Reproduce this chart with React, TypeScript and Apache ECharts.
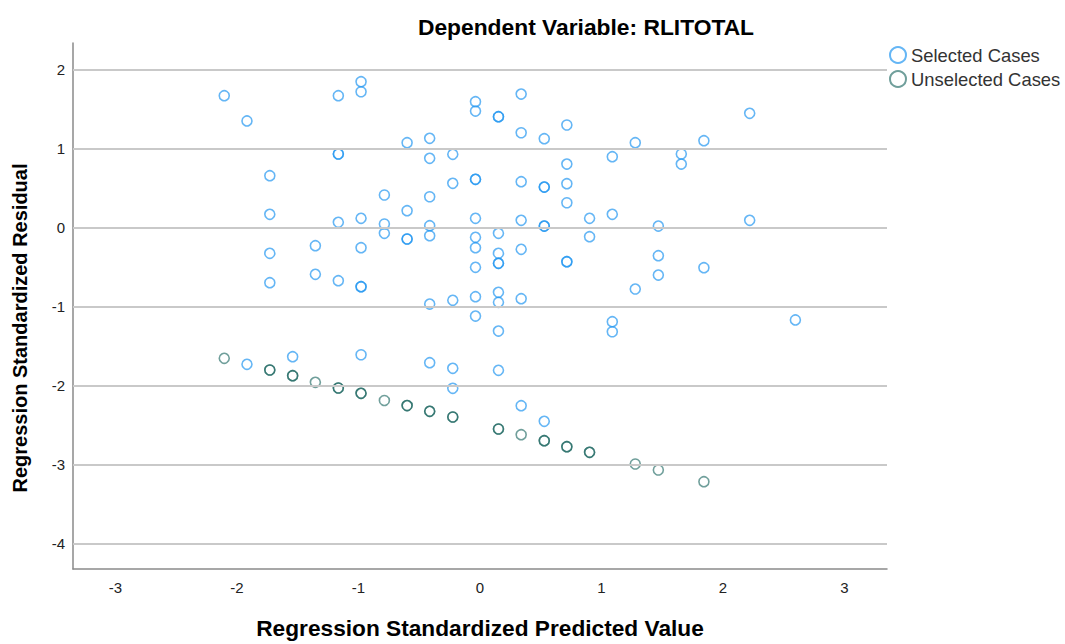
import React, { useEffect, useRef } from "react";
import * as echarts from "echarts";

const chartTitle = "Dependent Variable: RLITOTAL";
const xAxisTitle = "Regression Standardized Predicted Value";
const yAxisTitle = "Regression Standardized Residual";
const seriesNames = ["Selected Cases", "Unselected Cases"];
const gridValues = [-4, -3, -2, -1, 0, 1, 2];

const selectedCases: number[][] = [
  [-2.105, 1.666],
  [-1.918, 1.346], [-1.918, -1.734],
  [-1.73, 0.653], [-1.73, 0.165], [-1.73, -0.329], [-1.73, -0.701],
  [-1.542, -1.638],
  [-1.355, -0.233], [-1.355, -0.595],
  [-1.166, 1.666], [-1.166, 0.928], [-1.166, 0.928], [-1.166, 0.063], [-1.166, -0.676],
  [-0.979, 1.843], [-0.979, 1.716], [-0.979, 0.114], [-0.979, -0.258], [-0.979, -0.752], [-0.979, -0.752], [-0.979, -1.613],
  [-0.787, 0.409], [-0.787, 0.042], [-0.787, -0.076],
  [-0.6, 1.071], [-0.6, 0.21], [-0.6, -0.148], [-0.6, -0.148],
  [-0.414, 1.127], [-0.414, 0.873], [-0.414, 0.387], [-0.414, 0.02], [-0.414, -0.106], [-0.414, -0.971], [-0.414, -1.714],
  [-0.224, 0.924], [-0.224, 0.557], [-0.224, -0.924], [-0.224, -1.785], [-0.224, -2.038],
  [-0.037, 1.59], [-0.037, 1.472], [-0.037, 0.608], [-0.037, 0.608], [-0.037, 0.114], [-0.037, -0.127], [-0.037, -0.258], [-0.037, -0.506], [-0.037, -0.878], [-0.037, -1.123],
  [0.152, 1.4], [0.152, 1.4], [0.152, -0.076], [0.152, -0.329], [0.152, -0.456], [0.152, -0.456], [0.152, -0.823], [0.152, -0.949], [0.152, -1.313], [0.152, -1.81],
  [0.339, 1.687], [0.339, 1.197], [0.339, 0.577], [0.339, 0.089], [0.339, -0.278], [0.339, -0.904], [0.339, -2.258],
  [0.529, 1.122], [0.529, 0.51], [0.529, 0.51], [0.529, 0.016], [0.529, 0.016], [0.529, -2.456],
  [0.715, 1.295], [0.715, 0.801], [0.715, 0.552], [0.715, 0.311], [0.715, -0.435], [0.715, -0.435],
  [0.902, 0.114], [0.902, -0.119],
  [1.089, 0.894], [1.089, 0.165], [1.089, -1.195], [1.089, -1.322],
  [1.278, 1.071], [1.278, -0.781],
  [1.468, 0.016], [1.468, -0.359], [1.468, -0.604],
  [1.657, 0.928], [1.657, 0.801],
  [1.843, 1.096], [1.843, -0.511],
  [2.22, 1.443], [2.22, 0.089],
  [2.596, -1.173],
];

const unselectedCases: number[][] = [
  [-2.105, -1.658],
  [-1.73, -1.806], [-1.73, -1.806],
  [-1.542, -1.878], [-1.542, -1.878],
  [-1.355, -1.962],
  [-1.166, -2.034], [-1.166, -2.034],
  [-0.979, -2.101], [-0.979, -2.101],
  [-0.787, -2.192],
  [-0.6, -2.256], [-0.6, -2.256],
  [-0.414, -2.329], [-0.414, -2.329],
  [-0.224, -2.401], [-0.224, -2.401],
  [0.152, -2.553], [0.152, -2.553],
  [0.339, -2.625],
  [0.529, -2.701], [0.529, -2.701],
  [0.715, -2.777], [0.715, -2.777],
  [0.902, -2.848], [0.902, -2.848],
  [1.278, -2.996],
  [1.468, -3.072],
  [1.843, -3.22],
];

const FONT = "'Liberation Sans', Arial, sans-serif";

export default function App() {
  const ref = useRef<HTMLDivElement>(null);
  useEffect(() => {
    document.body.style.margin = "0";
    if (!ref.current) return;
    const chart = echarts.init(ref.current, null, { renderer: "svg" });
    const intLabel = (v: number) =>
      Math.abs(v - Math.round(v)) < 1e-9 ? String(Math.round(v)) : "";
    chart.setOption({
      animation: false,
      backgroundColor: "#ffffff",
      textStyle: { fontFamily: FONT },
      grid: { left: 73, right: 178, top: 43, bottom: 75, outerBoundsMode: "none", containLabel: false },
      graphic: [
        {
          type: "text",
          x: 586,
          y: 27,
          style: {
            text: chartTitle,
            textAlign: "center",
            textVerticalAlign: "middle",
            font: `bold 22.8px ${FONT}`,
            fill: "#000",
          },
        },
        {
          type: "text",
          x: 20,
          y: 328,
          rotation: Math.PI / 2,
          style: {
            text: yAxisTitle,
            textAlign: "center",
            textVerticalAlign: "middle",
            font: `bold 20px ${FONT}`,
            fill: "#000",
          },
        },
      ],
      legend: {
        orient: "vertical",
        left: 889,
        top: 46,
        padding: 0,
        itemWidth: 16,
        itemHeight: 16,
        itemGap: 6,
        icon: "circle",
        data: seriesNames,
        textStyle: { fontSize: 18.4, color: "#333", fontFamily: FONT },
      },
      xAxis: {
        type: "value",
        min: -3.35,
        max: 3.35,
        name: xAxisTitle,
        nameLocation: "middle",
        nameGap: 47,
        nameTextStyle: { fontSize: 22.7, fontWeight: "bold", color: "#000", fontFamily: FONT },
        axisLine: { show: true, onZero: false, lineStyle: { color: "#8a8a8a", width: 1.5 } },
        axisTick: { show: false },
        splitLine: { show: false },
        axisLabel: { formatter: intLabel, fontSize: 15, color: "#222", margin: 11, showMinLabel: false, showMaxLabel: false },
      },
      yAxis: {
        type: "value",
        min: -4.325,
        max: 2.333,
        axisLine: { show: true, onZero: false, lineStyle: { color: "#8a8a8a", width: 1.5 } },
        axisTick: { show: false },
        splitLine: { show: false },
        axisLabel: { formatter: intLabel, fontSize: 15, color: "#222", margin: 8, showMinLabel: false, showMaxLabel: false },
      },
      series: [
        {
          name: "grid",
          type: "scatter",
          data: [],
          z: 1,
          silent: true,
          markLine: {
            silent: true,
            symbol: ["none", "none"],
            label: { show: false },
            lineStyle: { color: "#c9c9c9", width: 2, type: "solid" },
            data: gridValues.map((v) => ({ yAxis: v })),
          },
        },
        {
          name: seriesNames[0],
          type: "scatter",
          z: 3,
          symbol: "circle",
          symbolSize: 10,
          data: selectedCases,
          itemStyle: {
            color: "rgba(255,255,255,0)",
            borderColor: "rgba(28,148,240,0.85)",
            borderWidth: 1.6,
          },
        },
        {
          name: seriesNames[1],
          type: "scatter",
          z: 3,
          symbol: "circle",
          symbolSize: 10,
          data: unselectedCases,
          itemStyle: {
            color: "rgba(255,255,255,0)",
            borderColor: "rgba(17,95,88,0.75)",
            borderWidth: 1.6,
          },
        },
      ],
    });
    return () => chart.dispose();
  }, []);
  return <div ref={ref} style={{ width: 1065, height: 644 }} />;
}
